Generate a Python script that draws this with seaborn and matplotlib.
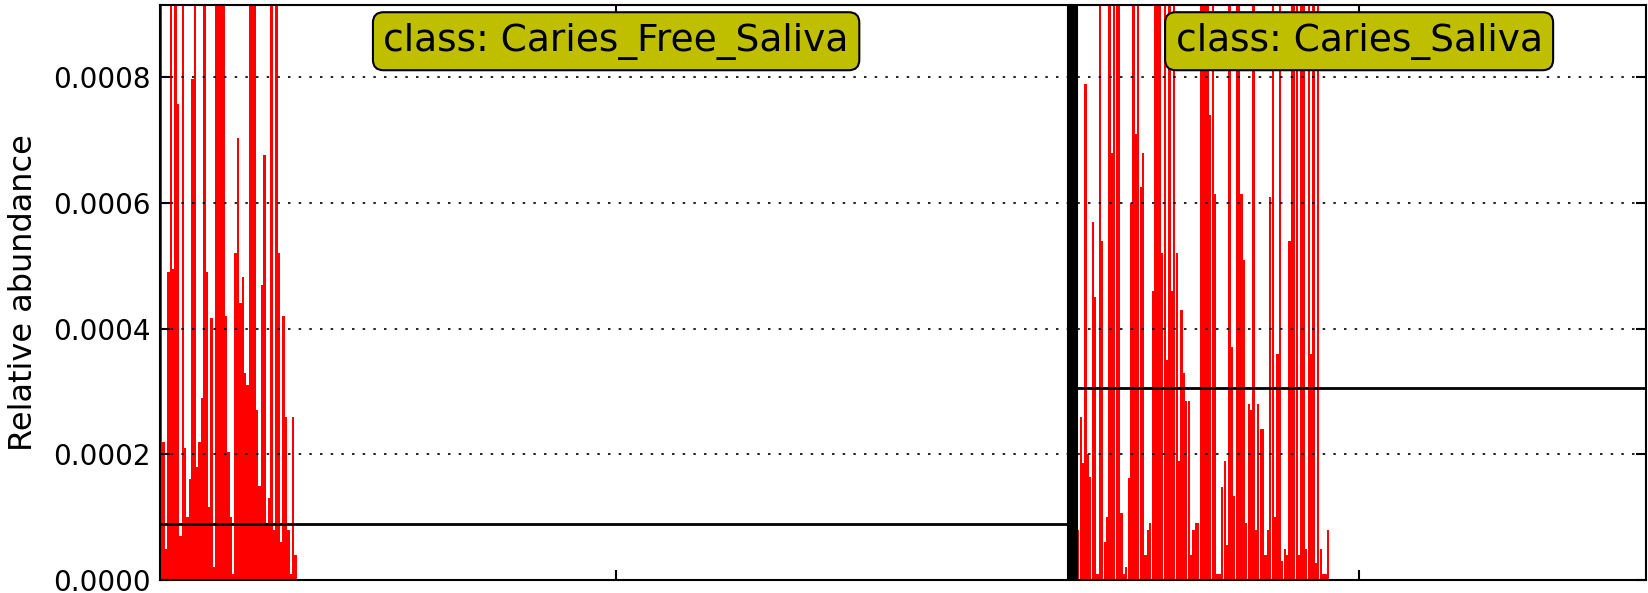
import numpy as np
import pandas as pd
import matplotlib
matplotlib.use("Agg")
import matplotlib.pyplot as plt
import matplotlib.transforms as mtransforms
import seaborn as sns

# relative abundance per sample (tall bars are clipped at the top)
caries_free_nonzero = [
    0.0012, 0.00022, 0.00005, 0.00049, 0.0014, 0.000495, 0.0011, 0.000758,
    0.00007, 0.0013, 0.00021, 0.0001, 0.00016, 0.000797, 0.0012, 0.00018,
    0.00022, 0.00029, 0.0015, 0.00049, 0.000116, 0.000417, 0.00002, 0.0016,
    0.0013, 0.0012, 0.0014, 0.00042, 0.000204, 0.0001, 0.00001, 0.000521,
    0.000703, 0.00044, 0.000482, 0.00033, 0.00031, 0.0012, 0.0015, 0.0011,
    0.00027, 0.00015, 0.000469, 0.000677, 0.00009, 0.00013, 0.0013, 0.00008,
    0.0012, 0.00052, 0.00006, 0.00042, 0.00026, 0.00008, 0.00001, 0.00026,
    0.00004,
]
caries_nonzero = [
    0.00005, 0.00005,
    0.00008, 0.00026, 0.000186, 0.00079, 0.0002, 0.000164, 0.00057, 0.00045,
    0.00001, 0.0013, 0.00054, 0.00006, 0.0001, 0.0012, 0.00068, 0.0014,
    0.0011, 0.0015, 0.000107, 0.00001, 0.00002, 0.000162, 0.0006, 0.0013,
    0.00071, 0.0012, 0.000625, 0.00068, 0.00004, 0.00008, 0.00009, 0.00046,
    0.0012, 0.0014, 0.0011, 0.00052, 0.0013, 0.00035, 0.0012, 0.00046,
    0.0016, 0.00052, 0.00019, 0.00043, 0.00033, 0.000285, 0.000285, 0.00004,
    0.00008, 0.00009, 0.00009, 0.0013, 0.0012, 0.0011, 0.0014, 0.00074,
    0.0012, 0.000615, 0.00001, 0.00001, 0.000148, 0.00019, 0.000056, 0.0013,
    0.00037, 0.000134, 0.0012, 0.0015, 0.000615, 0.00051, 0.00009, 0.00028,
    0.00027, 0.0013, 0.00008, 0.00028, 0.00024, 0.00024, 0.00004, 0.00008,
    0.00061, 0.0012, 0.0001, 0.00036, 0.0014, 0.00003, 0.00005, 0.00004,
    0.00054, 0.0012, 0.0013, 0.0011, 0.00004, 0.0012, 0.0013, 0.00005,
    0.0012, 0.00036, 0.0011, 0.000027, 0.0012, 0.00005, 0.00001, 0.00001,
    0.00008,
]
caries_free = caries_free_nonzero + [0.0] * 323
caries = caries_nonzero + [0.0] * 132

class_names = ["Caries_Free_Saliva", "Caries_Saliva"]
class_means = [0.0000895, 0.000305]

n1, n2 = len(caries_free), len(caries)
df = pd.DataFrame({
    "sample": np.arange(n1 + n2),
    "abundance": caries_free + caries,
})

sns.set_style("ticks")
plt.rcParams["font.family"] = ["DejaVu Sans"]
plt.rcParams.update({"text.color": "k", "axes.labelcolor": "k",
                     "xtick.color": "k", "ytick.color": "k"})

fig = plt.figure(figsize=(16.48, 5.93), dpi=100)
ax = fig.add_axes([160 / 1648, 13 / 593, 1486 / 1648, 575 / 593])

sns.barplot(data=df, x="sample", y="abundance", native_scale=True,
            color="red", saturation=1, width=0.95, linewidth=0,
            errorbar=None, ax=ax)

ax.set_xlim(-0.5, n1 + n2 - 0.5)
ax.set_ylim(0, 3 * max(class_means))

# class separator and class means
ax.axvline(n1 - 0.5, color="k", lw=8)
ax.hlines(class_means[0], -0.5, n1 - 0.5, color="k", lw=2, zorder=4)
ax.hlines(class_means[1], n1 - 0.5, n1 + n2 - 0.5, color="k", lw=2, zorder=4)

mids = [(n1 - 1) / 2, n1 + (n2 - 1) / 2]
ax.set_xticks(mids)
ax.set_xticklabels(["", ""])
ax.set_xlabel("")

ax.set_yticks([0, 0.0002, 0.0004, 0.0006, 0.0008])
ax.set_yticklabels(["%.4f" % v for v in [0, 0.0002, 0.0004, 0.0006, 0.0008]])
ax.set_ylabel("Relative abundance", fontsize=23, labelpad=10)

ax.yaxis.grid(True, linestyle=(0, (1.5, 4.9)), color="k", lw=1.2)
ax.set_axisbelow(False)
for gl in ax.get_ygridlines():
    gl.set_zorder(0.5)

ax.tick_params(direction="in", top=True, right=True, length=7, width=1.5,
               labelsize=20, pad=7)
for s in ax.spines.values():
    s.set_linewidth(1.5)
    s.set_color("k")
    s.set_zorder(5)

trans = mtransforms.blended_transform_factory(ax.transData, ax.transAxes)
for m, name in zip(mids, class_names):
    ax.text(m, 0.937, "class: " + name, transform=trans, ha="center", va="center",
            fontsize=27, zorder=6,
            bbox=dict(boxstyle="round,pad=0.28", facecolor="#BFBF00",
                      edgecolor="k", lw=1.5))

fig.savefig("out.png", dpi=100)
